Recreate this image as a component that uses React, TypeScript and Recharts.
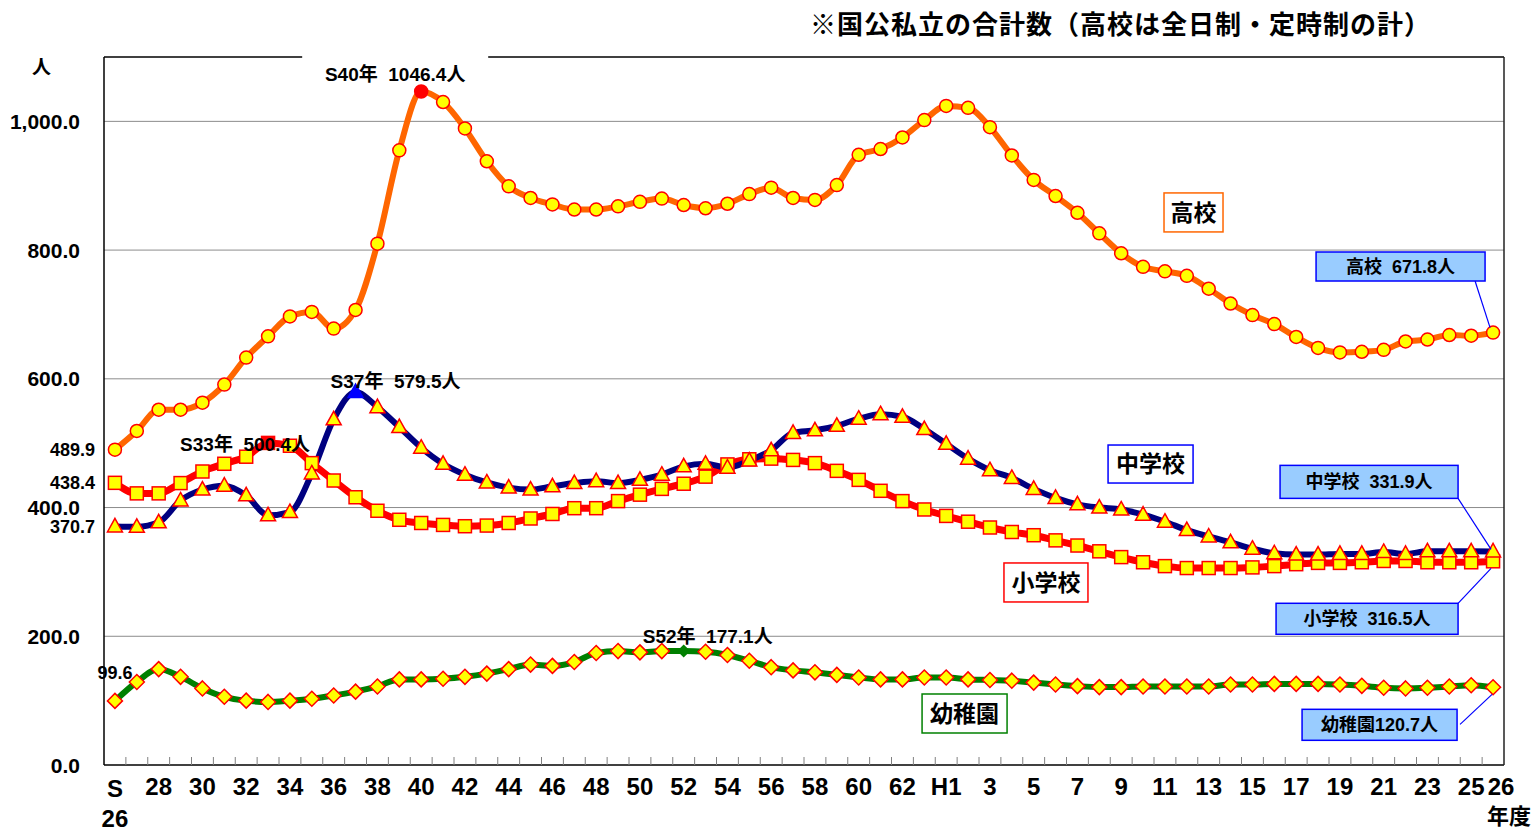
import React from 'react';
import { LineChart, Line, XAxis, YAxis, CartesianGrid, LabelList } from 'recharts';

// 年度 (S26 .. S63, H1 .. H26)
const YEARS = [
    'S26', 'S27', 'S28', 'S29', 'S30', 'S31', 'S32', 'S33', 'S34', 'S35',
    'S36', 'S37', 'S38', 'S39', 'S40', 'S41', 'S42', 'S43', 'S44', 'S45',
    'S46', 'S47', 'S48', 'S49', 'S50', 'S51', 'S52', 'S53', 'S54', 'S55',
    'S56', 'S57', 'S58', 'S59', 'S60', 'S61', 'S62', 'S63',
    'H1', 'H2', 'H3', 'H4', 'H5', 'H6', 'H7', 'H8', 'H9', 'H10',
    'H11', 'H12', 'H13', 'H14', 'H15', 'H16', 'H17', 'H18', 'H19', 'H20',
    'H21', 'H22', 'H23', 'H24', 'H25', 'H26'
];

// 高校
const KOUKOU = [
    489.9, 519, 552, 552, 563, 591, 633, 666, 697, 704,
    678, 707, 810, 955, 1046.4, 1030, 989, 938, 899, 881,
    871, 863, 863, 868, 875, 880, 870, 865, 872, 887,
    897, 881, 878, 901, 948, 957, 975, 1002, 1024, 1021,
    991, 947, 909, 884, 858, 826, 795, 774, 767, 760,
    740, 717, 699, 685, 665, 648, 641, 642, 645, 658,
    661, 668, 667, 671.8
];

// 小学校
const SHOGAKKO = [
    438.4, 422, 422, 438, 456, 468, 479, 500.4, 496, 469,
    442, 416, 395, 381, 376, 373, 371, 372, 376, 383,
    390, 399, 399, 410, 420, 429, 437, 448, 467, 475,
    476, 474, 469, 457, 443, 426, 410, 397, 387, 378,
    369, 362, 357, 349, 341, 332, 323, 315, 309, 306,
    306, 306, 307, 309, 312, 314, 314, 315, 317, 317,
    315, 315, 315, 316.5
];

// 中学校
const CHUGAKKO = [
    370.7, 370, 377, 411, 428, 434, 419, 388, 393, 453,
    537, 579.5, 556, 525, 493, 468, 451, 439, 431, 428,
    433, 438, 441, 438, 443, 451, 464, 468, 462, 473,
    489, 516, 520, 527, 538, 545, 541, 522, 499, 476,
    458, 446, 429, 415, 405, 400, 397, 389, 378, 365,
    355, 346, 336, 329, 327, 327, 328, 328, 331, 328,
    332, 332, 332, 331.9
];

// 幼稚園
const YOCHIEN = [
    99.6, 129, 149, 137, 119, 106, 100, 98, 100, 103,
    108, 114, 122, 133, 133, 134, 137, 142, 149, 156,
    154, 160, 174, 177, 175, 177, 177.1, 176, 171, 162,
    152, 147, 144, 140, 136, 133, 133, 136, 136, 133,
    132, 131, 128, 125, 122.5, 121, 121, 122, 122, 122,
    122, 125, 125, 126, 126, 126, 125, 123, 120, 119,
    120, 122, 124, 120.7
];

const MAIN_Y_TICKS = [0, 200, 400, 600, 800, 1000];

const data = YEARS.map((year, i) => ({
    year,
    koukou: KOUKOU[i],
    shogakko: SHOGAKKO[i],
    chugakko: CHUGAKKO[i],
    yochien: YOCHIEN[i]
}));

const FONT = "'Liberation Sans', Arial, 'Noto Sans CJK JP', sans-serif";
const JP_FONT = "'Noto Sans CJK JP', sans-serif";
const PLOT_W = 1400;
const HALF_BAND = PLOT_W / YEARS.length / 2;

const fmt1 = (v: number) =>
    v.toLocaleString('en-US', { minimumFractionDigits: 1, maximumFractionDigits: 1 });

const YTick = (p: any) => {
    const v = Number(p.payload.value);
    const main = MAIN_Y_TICKS.includes(v);
    return (
        <text
            x={p.x - (main ? 24 : 9)}
            y={p.y}
            dy="0.36em"
            textAnchor="end"
            fontSize={main ? 21 : 18}
            fontWeight="bold"
            fontFamily={FONT}
            fill="#000"
        >
            {fmt1(v)}
        </text>
    );
};

const XTick = (p: any) => {
    const { x, y, payload } = p;
    const i: number = p.index ?? payload.index;
    const year: string = payload.value;
    const isLast = i === YEARS.length - 1;
    const show = i % 2 === 0 || isLast;
    const label = year === 'H1' ? 'H1' : year.slice(1);
    // last label is nudged right so it doesn't sit on top of "25"
    const lx = isLast ? x + 8 : x;
    return (
        <g>
            {!isLast && <line x1={x + HALF_BAND} x2={x + HALF_BAND} y1={y} y2={y - 8} stroke="#808080" />}
            {show && i === 0 && (
                <text textAnchor="middle" fontSize={24} fontWeight="bold" fontFamily={FONT} fill="#000">
                    <tspan x={x} y={y + 32}>{year.slice(0, 1)}</tspan>
                    <tspan x={x} y={y + 62}>{year.slice(1)}</tspan>
                </text>
            )}
            {show && i !== 0 && (
                <text x={lx} y={y + 30} textAnchor="middle" fontSize={24} fontWeight="bold" fontFamily={FONT} fill="#000">
                    {label}
                </text>
            )}
        </g>
    );
};

type Shape = 'circle' | 'square' | 'triangle' | 'diamond';

const makeDot = (shape: Shape, values: number[], peakFill: string) => {
    const peak = values.indexOf(Math.max(...values));
    return (p: any) => {
        const { cx, cy, index } = p;
        const key = `dot-${shape}-${index}`;
        if (cx == null || cy == null) return <g key={key} />;
        const isPeak = index === peak;
        const fill = isPeak ? peakFill : '#ffff00';
        const stroke = isPeak ? peakFill : '#ff0000';
        if (shape === 'circle') {
            return <circle key={key} cx={cx} cy={cy} r={6.5} fill={fill} stroke={stroke} strokeWidth={1.5} />;
        }
        if (shape === 'square') {
            return <rect key={key} x={cx - 6.5} y={cy - 6.5} width={13} height={13} fill={fill} stroke={stroke} strokeWidth={1.5} />;
        }
        if (shape === 'triangle') {
            return (
                <polygon key={key} points={`${cx},${cy - 8} ${cx + 7.5},${cy + 5.5} ${cx - 7.5},${cy + 5.5}`}
                    fill={fill} stroke={stroke} strokeWidth={1.5} />
            );
        }
        const r = isPeak ? 5.5 : 7.5;
        return (
            <polygon key={key} points={`${cx},${cy - r} ${cx + r},${cy} ${cx},${cy + r} ${cx - r},${cy}`}
                fill={fill} stroke={stroke} strokeWidth={1.5} />
        );
    };
};

type Note = {
    peakDx: number;
    peakDy: number;
    peakBg?: boolean;
    name: string;
    nameIdx: number;
    nameDx: number;
    nameDy: number;
    nameW: number;
    nameH: number;
    nameColor: string;
    boxLabel: string;
    box: { dx: number; dy: number; w: number; h: number };
    leader: [number, number, number, number];
    first?: { dx: number; dy: number };
};

const makeLabels = (values: number[], note: Note) => {
    const peak = values.indexOf(Math.max(...values));
    const last = values.length - 1;
    return (props: any) => {
        const i: number = props.index;
        const vb = props.viewBox ?? {};
        const x = Number(vb.x ?? props.x);
        const y = Number(vb.y ?? props.y);
        const parts: React.ReactNode[] = [];
        if (i === peak) {
            const tx = x + note.peakDx;
            const ty = y + note.peakDy;
            if (note.peakBg) {
                parts.push(<rect key="bg" x={tx - 93} y={ty - 24} width={186} height={34} fill="#fff" />);
            }
            parts.push(
                <text key="peak" x={tx} y={ty} dy="0.36em" textAnchor="middle" fontSize={19} fontWeight="bold"
                    fontFamily={FONT} fill="#000" style={{ whiteSpace: 'pre' }}>
                    {`${YEARS[i]}年  ${values[i]}人`}
                </text>
            );
        }
        if (i === 0 && note.first) {
            parts.push(
                <text key="first" x={x + note.first.dx} y={y + note.first.dy} dy="0.36em" textAnchor="middle"
                    fontSize={18} fontWeight="bold" fontFamily={FONT} fill="#000">
                    {values[0]}
                </text>
            );
        }
        if (i === note.nameIdx) {
            const cx = x + note.nameDx;
            const cy = y + note.nameDy;
            parts.push(
                <g key="name">
                    <rect x={cx - note.nameW / 2} y={cy - note.nameH / 2} width={note.nameW} height={note.nameH}
                        fill="#fff" stroke={note.nameColor} strokeWidth={1.5} />
                    <text x={cx} y={cy} dy="0.36em" textAnchor="middle" fontSize={23} fontWeight="bold"
                        fontFamily={JP_FONT} fill="#000">
                        {note.name}
                    </text>
                </g>
            );
        }
        if (i === last) {
            const b = note.box;
            const [x1, y1, x2, y2] = note.leader;
            parts.push(
                <g key="callout">
                    <line x1={x + x1} y1={y + y1} x2={x + x2} y2={y + y2} stroke="#0000ff" strokeWidth={1.2} />
                    <rect x={x + b.dx} y={y + b.dy} width={b.w} height={b.h} fill="#99ccff" stroke="#0000ff" strokeWidth={1.5} />
                    <text x={x + b.dx + b.w / 2} y={y + b.dy + b.h / 2} dy="0.36em" textAnchor="middle"
                        fontSize={18} fontWeight="bold" fontFamily={FONT} fill="#000" style={{ whiteSpace: 'pre' }}>
                        {`${note.boxLabel}${fmt1(values[last])}人`}
                    </text>
                </g>
            );
        }
        if (!parts.length) return null;
        return <g>{parts}</g>;
    };
};

const NOTE_KOUKOU: Note = {
    peakDx: -26, peakDy: -17.5, peakBg: true,
    name: '高校', nameIdx: 49, nameDx: 6.7, nameDy: -63.4, nameW: 59, nameH: 39, nameColor: '#ff6600',
    boxLabel: '高校  ', box: { dx: -177, dy: -80.6, w: 169, h: 29 }, leader: [-18, -51.6, -3, -5]
};
const NOTE_SHOGAKKO: Note = {
    peakDx: -23, peakDy: 1,
    name: '小学校', nameIdx: 43, nameDx: -9.6, nameDy: 42.1, nameW: 84, nameH: 39, nameColor: '#ff0000',
    boxLabel: '小学校  ', box: { dx: -217, dy: 42, w: 182, h: 31 }, leader: [-35, 42, -2, 7]
};
const NOTE_CHUGAKKO: Note = {
    peakDx: 40, peakDy: -11,
    name: '中学校', nameIdx: 47, nameDx: 7.5, nameDy: -50.6, nameW: 85, nameH: 38, nameColor: '#0000ff',
    boxLabel: '中学校  ', box: { dx: -213, dy: -86, w: 178, h: 33 }, leader: [-35, -53, -2, -2]
};
const NOTE_YOCHIEN: Note = {
    peakDx: 24, peakDy: -15,
    name: '幼稚園', nameIdx: 39, nameDx: -3.5, nameDy: 34.1, nameW: 85, nameH: 39, nameColor: '#008000',
    boxLabel: '幼稚園', box: { dx: -191, dy: 22, w: 155, h: 31 }, leader: [-33, 37, -1, 7],
    first: { dx: 0, dy: -28 }
};

const yTicks = [...MAIN_Y_TICKS, KOUKOU[0], SHOGAKKO[0], CHUGAKKO[0]].sort((a, b) => a - b);

const App: React.FC = () => {
    return (
        <div style={{ position: 'absolute', left: 0, top: 0, width: 1536, height: 832, background: '#fff' }}>
            <div style={{ position: 'absolute', left: 810, top: 10, fontSize: 26, letterSpacing: 1, fontWeight: 'bold', fontFamily: JP_FONT, lineHeight: 1, whiteSpace: 'nowrap' }}>
                ※国公私立の合計数（高校は全日制・定時制の計）
            </div>
            <div style={{ position: 'absolute', left: 32, top: 56, fontSize: 19, fontWeight: 'bold', fontFamily: JP_FONT, lineHeight: 1 }}>
                人
            </div>
            <div style={{ position: 'absolute', left: 1487, top: 803, fontSize: 22, fontWeight: 'bold', fontFamily: JP_FONT, lineHeight: 1, zIndex: 2 }}>
                年度
            </div>
            <LineChart width={1536} height={832} data={data} margin={{ top: 56, right: 31, bottom: 0, left: 0 }}>
                <CartesianGrid horizontal vertical={false} horizontalValues={[200, 400, 600, 800, 1000]} stroke="#8c8c8c" strokeWidth={1} />
                <XAxis
                    dataKey="year"
                    interval={0}
                    height={67}
                    padding={{ left: HALF_BAND, right: HALF_BAND }}
                    tick={<XTick />}
                    tickLine={false}
                    tickSize={0}
                    tickMargin={0}
                    axisLine={{ stroke: '#000', strokeWidth: 1.5 }}
                />
                <XAxis
                    xAxisId="top"
                    orientation="top"
                    dataKey="year"
                    height={1}
                    tick={false}
                    tickLine={false}
                    axisLine={{ stroke: '#000', strokeWidth: 1.5 }}
                />
                <YAxis
                    domain={[0, 1100]}
                    ticks={yTicks}
                    interval={0}
                    width={104}
                    tick={<YTick />}
                    tickLine={false}
                    tickSize={0}
                    tickMargin={0}
                    axisLine={{ stroke: '#000', strokeWidth: 1.5 }}
                />
                <YAxis
                    yAxisId="right"
                    orientation="right"
                    domain={[0, 1100]}
                    width={1}
                    tick={false}
                    tickLine={false}
                    axisLine={{ stroke: '#222', strokeWidth: 1.5 }}
                />
                <Line
                    type="monotone"
                    dataKey="koukou"
                    stroke="#ff6600"
                    strokeWidth={6}
                    dot={makeDot('circle', KOUKOU, '#ff0000')}
                    activeDot={false}
                    isAnimationActive={false}
                >
                    <LabelList dataKey="koukou" content={makeLabels(KOUKOU, NOTE_KOUKOU)} />
                </Line>
                <Line
                    type="monotone"
                    dataKey="shogakko"
                    stroke="#ff0000"
                    strokeWidth={7}
                    dot={makeDot('square', SHOGAKKO, '#ff0000')}
                    activeDot={false}
                    isAnimationActive={false}
                >
                    <LabelList dataKey="shogakko" content={makeLabels(SHOGAKKO, NOTE_SHOGAKKO)} />
                </Line>
                <Line
                    type="monotone"
                    dataKey="chugakko"
                    stroke="#000080"
                    strokeWidth={6}
                    dot={makeDot('triangle', CHUGAKKO, '#0000ff')}
                    activeDot={false}
                    isAnimationActive={false}
                >
                    <LabelList dataKey="chugakko" content={makeLabels(CHUGAKKO, NOTE_CHUGAKKO)} />
                </Line>
                <Line
                    type="monotone"
                    dataKey="yochien"
                    stroke="#008000"
                    strokeWidth={6}
                    dot={makeDot('diamond', YOCHIEN, '#008000')}
                    activeDot={false}
                    isAnimationActive={false}
                >
                    <LabelList dataKey="yochien" content={makeLabels(YOCHIEN, NOTE_YOCHIEN)} />
                </Line>
            </LineChart>
        </div>
    );
};

export default App;
